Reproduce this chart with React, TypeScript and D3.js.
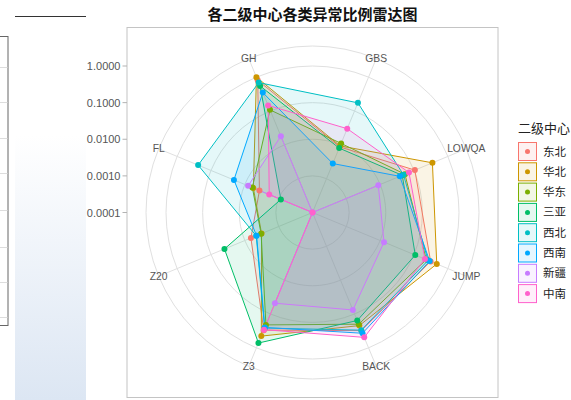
import React from "react";
import * as d3 from "d3";

const axes = ["GH", "GBS", "LOWQA", "JUMP", "BACK", "Z3", "Z20", "FL"];
const centers = ["东北", "华北", "华东", "三亚", "西北", "西南", "新疆", "中南"];
const palette = ["#F8766D", "#CD9600", "#7CAE00", "#00BE67", "#00BFC4", "#00A9FF", "#C77CFF", "#FF61CC"];

// values per axis: GH, GBS, LOWQA, JUMP, BACK, Z3, Z20, FL
const dongbei = [0.81, 0.0087, 0.106, 0.31, 0.31, 0.30, 0.0066, 0.0037];
const huabei = [1.0, 0.0093, 0.35, 0.47, 0.22, 0.45, 0.0032, 0.0056];
const huadong = [0.108, 0.011, 0.054, 0.23, 0.2, 0.21, 0.0033, 0.006];
const sanya = [0.55, 0.008, 0.045, 0.109, 0.156, 0.72, 0.04, 0.00086];
const xibei = [0.69, 0.174, 0.049, 0.26, 0.3, 0.26, 0.0046, 0.24];
const xinan = [0.35, 0.0028, 0.038, 0.29, 0.37, 0.25, 0.0045, 0.021];
const xinjiang = [0.018, 0, 0.0088, 0.013, 0.076, 0.048, 0, 0.008];
const zhongnan = [0.146, 0.03, 0.071, 0.21, 0.49, 0.29, 0, 0.0019];
const seriesValues = [dongbei, huabei, huadong, sanya, xibei, xinan, xinjiang, zhongnan];

const yTicks = [1, 0.1, 0.01, 0.001, 0.0001];
const yTickLabels = ["1.0000", "0.1000", "0.0100", "0.0010", "0.0001"];

const title = "各二级中心各类异常比例雷达图";
const legendTitle = "二级中心";

export default function App() {
  const W = 571, H = 400;
  const px0 = 127, py0 = 27.5, pw = 371, ph = 370;
  const cx = px0 + pw / 2, cy = py0 + ph / 2;
  const rMax = 146.5;
  const rOuter = 166.5;
  const rScale = d3.scaleLog().domain([1e-4, 1]).range([0, rMax]).clamp(true);
  const rOf = (v: number) => (v <= 1e-4 ? 0 : rScale(v));
  const angle = d3.scaleLinear().domain([0, axes.length]).range([0, 2 * Math.PI]);
  const a = (i: number) => angle(i) - Math.PI / 8;
  const line = d3
    .lineRadial<number>()
    .angle((d, i) => a(i))
    .radius((d) => rOf(d))
    .curve(d3.curveLinearClosed);
  const pt = (r: number, ang: number) => [cx + r * Math.sin(ang), cy - r * Math.cos(ang)];
  const latin = "'Liberation Sans', Arial, 'Noto Sans CJK SC', sans-serif";
  const cjk = "'Liberation Sans', 'Noto Sans CJK SC', sans-serif";
  const grid = "#E0E0E0";
  const deco = [67, 102, 138, 173, 210, 247, 282, 317];

  return (
    <svg width={W} height={H} style={{ position: "absolute", left: 0, top: 0, background: "#fff" }}>
      <defs>
        <linearGradient id="bgGrad" x1="0" y1="0" x2="0" y2="1">
          <stop offset="0" stopColor="#ffffff" />
          <stop offset="1" stopColor="#DCE6F3" />
        </linearGradient>
      </defs>
      {/* left decorations */}
      <rect x={-1} y={36.5} width={9} height={289} fill="#fff" stroke="#666" strokeWidth={1} />
      {deco.map((y) => (
        <line key={y} x1={0} x2={7.5} y1={y + 0.5} y2={y + 0.5} stroke="#ddd" />
      ))}
      <line x1={15} x2={86} y1={16.5} y2={16.5} stroke="#333" strokeWidth={1} />
      <rect x={15} y={135} width={71} height={265} fill="url(#bgGrad)" />

      {/* title */}
      <text x={cx} y={20} textAnchor="middle" fontFamily={cjk} fontSize={15} fontWeight="bold" fill="#111">
        {title}
      </text>

      {/* panel */}
      <rect x={px0} y={py0} width={pw} height={ph} fill="#fff" stroke="#C4C4C4" strokeWidth={1} />
      {yTicks.slice(0, 4).map((t) => (
        <circle key={t} cx={cx} cy={cy} r={rOf(t)} fill="none" stroke={grid} strokeWidth={1} />
      ))}
      <circle cx={cx} cy={cy} r={rOuter} fill="none" stroke={grid} strokeWidth={1} />
      {axes.map((ax, i) => {
        const [x, y] = pt(rOuter, a(i));
        return <line key={ax} x1={cx} y1={cy} x2={x} y2={y} stroke={grid} strokeWidth={1} />;
      })}

      {/* polygons */}
      <g transform={`translate(${cx},${cy})`}>
        {seriesValues.map((vals, s) => (
          <path
            key={centers[s]}
            d={line(vals) || ""}
            fill={palette[s]}
            fillOpacity={0.1}
            stroke={palette[s]}
            strokeWidth={1}
          />
        ))}
      </g>
      {seriesValues.map((vals, s) =>
        vals.map((v, i) => {
          const [x, y] = pt(rOf(v), a(i));
          return <circle key={centers[s] + i} cx={x} cy={y} r={3} fill={palette[s]} />;
        })
      )}

      {/* theta labels */}
      {axes.map((ax, i) => {
        const [x, y] = pt(rOuter, a(i));
        return (
          <text key={ax} x={x} y={y} textAnchor="middle" dominantBaseline="central" fontFamily={latin} fontSize={10.3} fill="#555">
            {ax}
          </text>
        );
      })}

      {/* y axis */}
      {yTicks.map((t, i) => {
        const y = cy - rOf(t);
        return (
          <g key={t}>
            <line x1={122.5} x2={127} y1={y} y2={y} stroke="#B3B3B3" />
            <text x={120.5} y={y} textAnchor="end" dominantBaseline="central" fontFamily={latin} fontSize={11} fill="#555">
              {yTickLabels[i]}
            </text>
          </g>
        );
      })}

      {/* legend */}
      <text x={518} y={133} fontFamily={cjk} fontSize={13} fill="#222">
        {legendTitle}
      </text>
      {centers.map((c, s) => {
        const y0 = 142.5 + s * 20.3;
        return (
          <g key={c}>
            <rect x={518.5} y={y0} width={18} height={18} fill={palette[s]} fillOpacity={0.1} stroke={palette[s]} strokeWidth={1} />
            <circle cx={527.5} cy={y0 + 9} r={2.5} fill={palette[s]} />
            <text x={543} y={y0 + 9} dominantBaseline="central" fontFamily={cjk} fontSize={11.5} fill="#222">
              {c}
            </text>
          </g>
        );
      })}
    </svg>
  );
}
